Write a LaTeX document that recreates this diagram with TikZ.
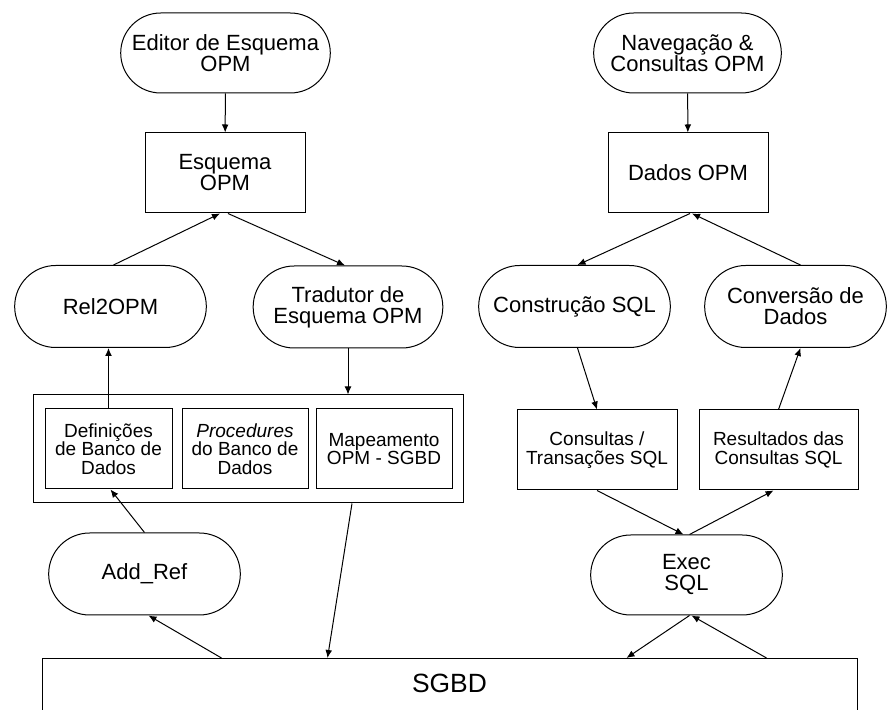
\documentclass[tikz,border=0pt]{standalone}
\usepackage{fontspec}
\setmainfont{Liberation Sans}
\usepackage{tikz}
\usetikzlibrary{arrows.meta,shapes.misc,calc}
\tikzstyle{tarefa}=[rounded rectangle, draw, line width=0.5pt, align=center, minimum width=102.5pt, minimum height=41pt, font=\fontsize{11}{10.5}\selectfont]
\tikzstyle{dado}=[rectangle, draw, line width=0.5pt, align=center, minimum width=80pt, minimum height=40pt, font=\fontsize{11}{10.5}\selectfont]
\newcommand{\tarefa}{\node[tarefa]}
\newcommand{\dado}{\node[dado]}

\begin{document}
\begin{tikzpicture}[x=0.5pt, y=-0.5pt]
			\tikzstyle{pequeno}=[font=\fontsize{9.5}{9.2}\selectfont]
			\tikzstyle{every edge}=[draw, line width=0.5pt, -{Latex[length=4pt,width=3.4pt]}]
			\path[use as bounding box, clip] (0,0) rectangle (895,710);
			% Lado esquerdo
			\tarefa (ed) at (225.5,53) [minimum height=40pt] {Editor de Esquema\\OPM};
			\dado (esq) at (225,173) {Esquema\\OPM};
			\tarefa (rel) at (110.5,306.5) {Rel2OPM};
			\tarefa (trad) at (348,307) [minimum width=101.5pt] {Tradutor de\\Esquema OPM};
			\node[dado, minimum width=215pt, minimum height=54pt] (meta) at (248,449) {};
			\dado (def) at (108.5,449) [pequeno, minimum width=63.5pt] {Definições\\de Banco de\\Dados};
			\dado (pr) at (245,449) [pequeno, minimum width=63pt] {\textit{Procedures}\\do Banco de\\Dados};
			\dado (map) at (384,449) [pequeno, minimum width=68pt] {Mapeamento\\OPM - SGBD};
			\tarefa (add) at (144.5,574) {Add\_Ref};
			% Lado direito
			\tarefa (nav) at (687.5,53) [minimum width=100.5pt, minimum height=40pt] {Navegação \&\\Consultas OPM};
			\dado (dados) at (688,173) {Dados OPM};
			\tarefa (cons) at (574.5,306.5) {Construção SQL};
			\tarefa (conv) at (795.5,306.5) [minimum width=97.5pt] {Conversão de\\Dados};
			\dado (ctr) at (597,450) [pequeno] {Consultas /\\Transações SQL};
			\dado (res) at (778.5,450) [pequeno, minimum width=79.5pt] {Resultados das\\Consultas SQL};
			\tarefa (exec) at (686.5,575) [minimum height=40pt] {Exec\\SQL};
			% SGBD
			\node[dado, anchor=north, minimum width=407.5pt, text height=9.5pt, text depth=60pt, inner ysep=7.5pt, font=\fontsize{13.2}{14}\selectfont] (sgbd) at (449.5,658) {SGBD};

			\path
			(ed) edge (esq)
			([xshift=1.5pt]rel.north) edge ([xshift=-2.5pt]esq.south)
			([xshift=1.5pt]esq.south) edge ([xshift=-1.5pt]trad.north)
			(def.north) edge (def.north |- rel.south)
			(trad.south) edge (trad.south |- meta.north)
			(add.north) edge ([xshift=1pt]def.south)
			([xshift=90pt]sgbd.north west) edge ([xshift=2pt]add.south)
			([xshift=52pt]meta.south) edge ([xshift=143pt]sgbd.north west)
			(nav) edge (dados)
			([xshift=1pt]dados.south) edge ([xshift=1.5pt]cons.north)
			([xshift=2.5pt]conv.north) edge ([xshift=2pt]dados.south)
			([xshift=1.5pt]cons.south) edge (ctr.north)
			(res.north) edge ([xshift=2.5pt]conv.south)
			(ctr.south) edge ([xshift=-1.5pt]exec.north)
			([xshift=1.5pt]exec.north) edge ([xshift=-2.5pt]res.south)
			([xshift=1.5pt]exec.south) edge ([xshift=292.5pt]sgbd.north west)
			([xshift=362.5pt]sgbd.north west) edge ([xshift=2.5pt]exec.south)
			;
\end{tikzpicture}
\end{document}
